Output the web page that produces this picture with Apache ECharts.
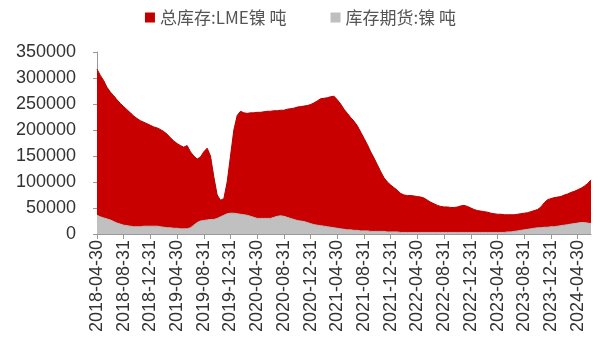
<!DOCTYPE html>
<html>
<head>
<meta charset="utf-8">
<script src="https://cdn.jsdelivr.net/npm/echarts@6/dist/echarts.min.js"></script>
<style>html,body{margin:0;padding:0;background:#fff}#c{width:601px;height:349px}</style>
</head>
<body>
<div id="c"></div>
<script>
// Series names
const seriesNames = ['总库存:LME镍 吨', '库存期货:镍 吨'];
// Y axis ticks
const yTicks = [0, 50000, 100000, 150000, 200000, 250000, 300000, 350000];

// Total LME nickel stock (thousand tonnes), half-month steps from 2018-04-30
const lmeK = [
 317,305,295,282,273,266,258,251,245,239,233,227,222,218,215,212,209,206,204,201,
 197,192,185,179,174,170,167,170,158,150,144,148,158,165,150,110,75,65,68,100,
 150,200,228,236,233,232,233,233,234,234,235,236,236,237,237,238,238,240,241,242,
 244,245,246,247,249,252,256,260,261,262,264,265,258,250,240,232,224,217,208,196,
 184,172,158,146,133,120,108,100,94,89,84,78,75,74,74,73,72,71,69,65,
 61,58,55,53,52,52,51,51,52,54,55,53,50,47,45,44,43,42,40,39,
 38,38,37,37,37,37,38,39,40,41,43,45,47,52,60,66,68,70,71,72,
 75,77,80,82,85,88,92,97,104
];
// SHFE nickel futures stock (thousand tonnes), same dates
const shfeK = [
 36,33,31,29,27,24,21,19,17,16,15,14,14,14,15,15,15,15,15,14,
 13,12,12,11,11,10,10,10,12,17,22,25,26,27,28,28,30,33,36,39,
 40,40,39,38,37,36,34,32,30,30,30,30,30,32,34,35,34,32,30,28,
 26,25,24,22,20,18,17,16,15,14,13,12,11,10,9,8,8,7,7,6,
 6,6,5,5,5,5,5,4,4,4,4,3,3,3,3,3,3,3,3,3,
 3,3,3,3,3,3,3,3,3,3,3,3,3,3,3,3,3,3,3,3,
 3,3,3,4,4,5,6,7,8,9,10,11,12,12,13,13,14,14,15,16,
 17,18,19,20,21,22,22,21,20
];

// Categories: month-ends and mid-months starting 2018-04-30
function pad(n){return (n<10?'0':'')+n;}
const categories = [];
for (let i = 0; i < lmeK.length; i++) {
  const m = Math.floor(i/2);
  let d;
  if (i % 2 === 0) d = new Date(Date.UTC(2018, 3 + m + 1, 0));
  else d = new Date(Date.UTC(2018, 3 + m + 1, 15));
  categories.push(d.getUTCFullYear() + '-' + pad(d.getUTCMonth()+1) + '-' + pad(d.getUTCDate()));
}
const lme = lmeK.map(v => v * 1000);
const shfe = shfeK.map(v => v * 1000);

const chart = echarts.init(document.getElementById('c'), null, {renderer: 'canvas'});
chart.setOption({
  backgroundColor: '#fff',
  animation: false,
  legend: {
    top: 4,
    left: 'center',
    icon: 'rect',
    itemWidth: 10,
    itemHeight: 10,
    itemGap: 44,
    textStyle: {fontSize: 17, color: '#555', fontFamily: 'Noto Sans CJK SC'},
    data: seriesNames
  },
  grid: {left: 97, right: 10, top: 52, bottom: 115, containLabel: false},
  xAxis: {
    type: 'category',
    boundaryGap: false,
    data: categories,
    axisLine: {lineStyle: {color: '#999'}},
    axisTick: {interval: 7, length: 5, lineStyle: {color: '#999'}},
    axisLabel: {interval: 7, rotate: 90, fontSize: 18, color: '#333', margin: 6, fontFamily: 'Liberation Sans'}
  },
  yAxis: {
    type: 'value',
    min: yTicks[0],
    max: yTicks[yTicks.length-1],
    interval: 50000,
    splitLine: {show: false},
    axisLine: {show: true, lineStyle: {color: '#999'}},
    axisTick: {show: true, length: 4, lineStyle: {color: '#999'}},
    axisLabel: {fontSize: 18, color: '#333', margin: 21, fontFamily: 'Liberation Sans',
      formatter: function (v) { return String(v); }}
  },
  series: [
    {
      name: seriesNames[0], type: 'line', data: lme, symbol: 'none',
      itemStyle: {color: '#C00000'},
      lineStyle: {color: '#B00000', width: 1},
      areaStyle: {color: '#C80000', opacity: 1}
    },
    {
      name: seriesNames[1], type: 'line', data: shfe, symbol: 'none',
      itemStyle: {color: '#BFBFBF'},
      lineStyle: {color: '#BBBBBB', width: 1},
      areaStyle: {color: '#C0C0C0', opacity: 1}
    }
  ]
});
</script>
</body>
</html>
